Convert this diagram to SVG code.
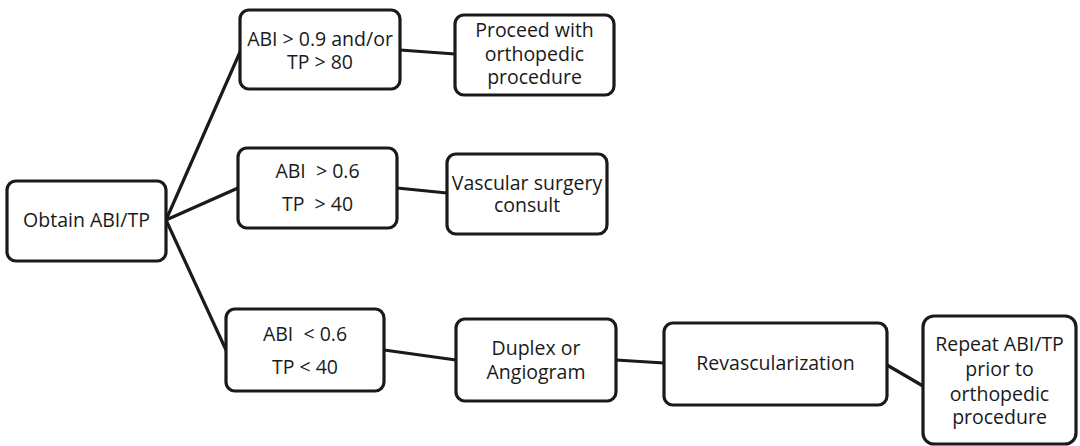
<svg xmlns="http://www.w3.org/2000/svg" width="1080" height="446" viewBox="0 0 1080 446">
<style>
.box{fill:#fff;stroke:#1a1a1a;stroke-width:3.2}
.t{font-family:"Open Sans","Noto Sans",sans-serif;font-size:19.5px;fill:#1a1a1a;text-anchor:middle;white-space:pre}
.c{stroke:#1a1a1a;stroke-width:3.2;fill:none;stroke-linecap:round}
</style>
<rect width="1080" height="446" fill="#fff"/>
<g id="connectors">
<line class="c" x1="166" y1="220" x2="240" y2="52"/>
<line class="c" x1="166" y1="220" x2="238" y2="188"/>
<line class="c" x1="166" y1="220" x2="226" y2="350"/>
<line class="c" x1="400" y1="50" x2="455" y2="54"/>
<line class="c" x1="397" y1="188" x2="447" y2="193"/>
<line class="c" x1="384" y1="350" x2="456" y2="360"/>
<line class="c" x1="616" y1="360" x2="664" y2="363"/>
<line class="c" x1="887" y1="365" x2="923" y2="386"/>
</g>
<g id="obtain">
<rect class="box" x="7" y="181" width="159" height="80" rx="9"/>
<text class="t" x="86.5" y="227">Obtain ABI/TP</text>
</g>
<g id="abi09">
<rect class="box" x="240" y="10" width="160" height="79" rx="9"/>
<text class="t" x="320" y="46">ABI &gt; 0.9 and/or</text>
<text class="t" x="320" y="69">TP &gt; 80</text>
</g>
<g id="proceed">
<rect class="box" x="455" y="15" width="159" height="80" rx="9"/>
<text class="t" x="534.5" y="37">Proceed with</text>
<text class="t" x="534.5" y="61">orthopedic</text>
<text class="t" x="534.5" y="84">procedure</text>
</g>
<g id="abi06gt">
<rect class="box" x="238" y="148" width="159" height="80" rx="9"/>
<text class="t" x="317.5" y="178">ABI  &gt; 0.6</text>
<text class="t" x="317.5" y="211">TP  &gt; 40</text>
</g>
<g id="vascular">
<rect class="box" x="447" y="154" width="160" height="80" rx="9"/>
<text class="t" x="527" y="190">Vascular surgery</text>
<text class="t" x="527" y="212">consult</text>
</g>
<g id="abi06lt">
<rect class="box" x="226" y="309" width="158" height="82" rx="9"/>
<text class="t" x="305" y="341">ABI  &lt; 0.6</text>
<text class="t" x="305" y="374">TP &lt; 40</text>
</g>
<g id="duplex">
<rect class="box" x="456" y="319" width="160" height="82" rx="9"/>
<text class="t" x="536" y="355">Duplex or</text>
<text class="t" x="536" y="379">Angiogram</text>
</g>
<g id="revasc">
<rect class="box" x="664" y="323" width="223" height="82" rx="9"/>
<text class="t" x="775.5" y="370">Revascularization</text>
</g>
<g id="repeat">
<rect class="box" x="923" y="316" width="153" height="128" rx="11"/>
<text class="t" x="999.5" y="351">Repeat ABI/TP</text>
<text class="t" x="999.5" y="376">prior to</text>
<text class="t" x="999.5" y="401">orthopedic</text>
<text class="t" x="999.5" y="424">procedure</text>
</g>
</svg>
